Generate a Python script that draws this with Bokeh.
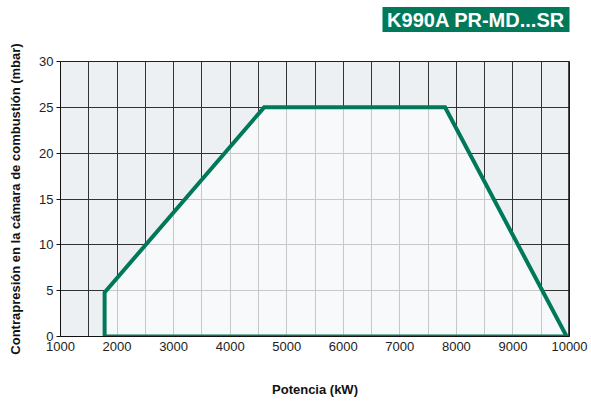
from bokeh.plotting import figure
from bokeh.layouts import column
from bokeh.models import Span, FixedTicker, Range1d
from bokeh.core.properties import value
from bokeh.embed import file_html
from bokeh.resources import INLINE

# data
power_kw = [1780, 1780, 4600, 7800, 9950]
pressure_mbar = [0, 4.8, 25, 25, 0]
x_ticks = [1000, 2000, 3000, 4000, 5000, 6000, 7000, 8000, 9000, 10000]
y_ticks = [0, 5, 10, 15, 20, 25, 30]
x_grid = [1000 + 500 * i for i in range(19)]
title_text = "K990A PR-MD...SR"
x_label = "Potencia (kW)"
y_label = "Contrapresión en la cámara de combustión (mbar)"

GREEN = "#00785a"
FONT = "Liberation Sans"
W = 591
HT = 36            # header strip height
H = 400 - HT       # main figure height
FL, FT, FR, FB = 60, 61 - HT, 569, 336 - HT

# ---- header with the green title box (pixel coordinates, y downward) ----
hdr = figure(width=W, height=HT, output_backend="svg", toolbar_location=None,
             x_range=Range1d(FL, FR), y_range=Range1d(HT, 0),
             min_border=0, min_border_left=FL, min_border_right=W - FR,
             min_border_top=0, min_border_bottom=0)
hdr.axis.visible = False
hdr.grid.visible = False
hdr.outline_line_color = None
hdr.background_fill_color = "white"
hdr.border_fill_color = "white"
hdr.quad(left=[382], right=[571], top=[6.5], bottom=[31.5], fill_color=GREEN, line_color=None)
hdr.text(x=[475.5], y=[19.5], text=[title_text], text_align="center", text_baseline="middle",
         text_font=value(FONT), text_font_style="bold", text_font_size="20px",
         text_color="white")

# ---- main chart ----
p = figure(width=W, height=H, output_backend="svg", toolbar_location=None,
           x_range=Range1d(1000, 10000), y_range=Range1d(0, 30),
           min_border_left=FL, min_border_top=FT, min_border_right=W - FR,
           min_border_bottom=H - FB)
p.background_fill_color = "#edf0f3"
p.border_fill_color = "white"
p.outline_line_color = "#222222"
p.outline_line_width = 1

p.xgrid.ticker = FixedTicker(ticks=x_grid)
p.ygrid.ticker = FixedTicker(ticks=y_ticks)
for g in (p.xgrid, p.ygrid):
    g.grid_line_color = "#333333"
    g.grid_line_width = 1
    g.grid_line_alpha = 1

p.patch(power_kw, pressure_mbar, fill_color="#fafcfc", fill_alpha=0.75,
        line_color=GREEN, line_width=4, line_join="miter")

p.add_layout(Span(location=10000, dimension="height", line_color="#111111", line_width=2.5))

xa = p.xaxis[0]
xa.ticker = FixedTicker(ticks=x_ticks)
xa.major_tick_out = 0
xa.major_tick_in = 0
xa.minor_tick_out = 0
xa.minor_tick_in = 0
xa.axis_line_color = "#111111"
xa.major_label_standoff = 5
xa.major_label_text_font = FONT
xa.major_label_text_font_size = "13px"
xa.major_label_text_color = "#222222"
xa.axis_label = x_label
xa.axis_label_text_font = FONT
xa.axis_label_text_font_style = "bold"
xa.axis_label_text_font_size = "13px"
xa.axis_label_text_color = "#111111"
xa.axis_label_standoff = 28

ya = p.yaxis[0]
ya.ticker = FixedTicker(ticks=y_ticks)
ya.major_tick_out = 4
ya.major_tick_in = 0
ya.minor_tick_out = 0
ya.minor_tick_in = 0
ya.major_tick_line_color = "#111111"
ya.axis_line_color = "#111111"
ya.major_label_standoff = 3
ya.major_label_text_font = FONT
ya.major_label_text_font_size = "13px"
ya.major_label_text_color = "#222222"
ya.axis_label = y_label
ya.axis_label_text_font = FONT
ya.axis_label_text_font_style = "bold"
ya.axis_label_text_font_size = "13px"
ya.axis_label_text_color = "#111111"
ya.axis_label_standoff = 13

layout = column(hdr, p, spacing=0)
open("out.html", "w").write(file_html(layout, INLINE))
